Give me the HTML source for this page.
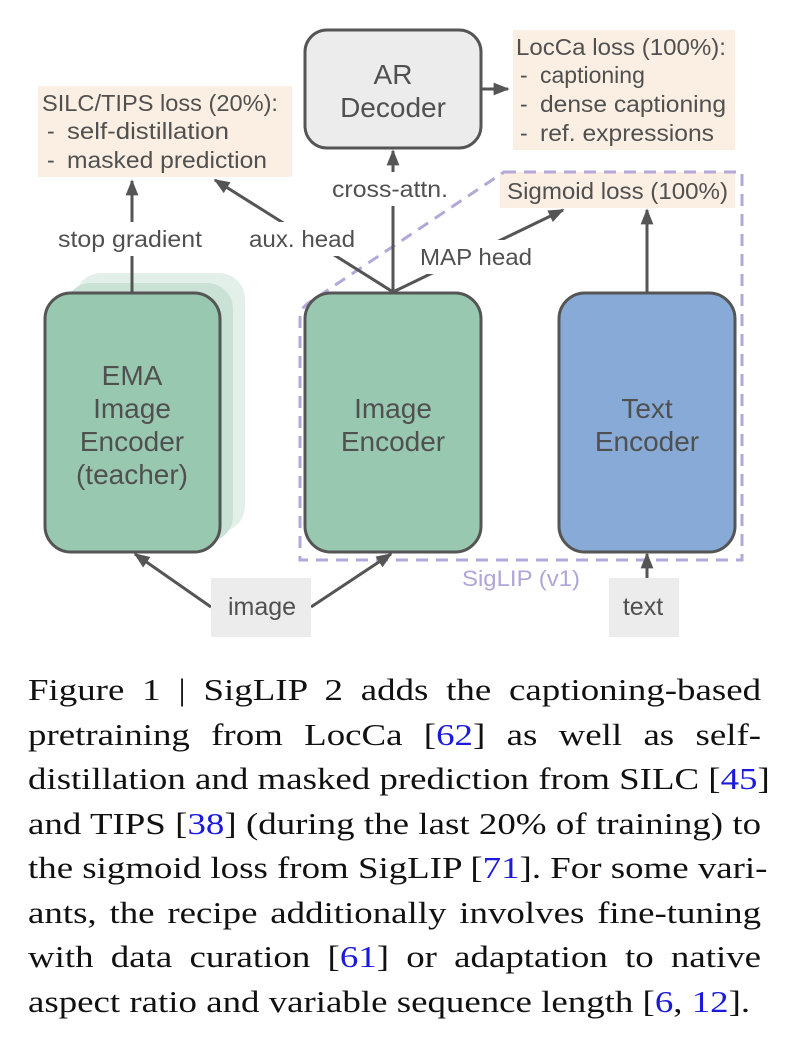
<!DOCTYPE html>
<html><head><meta charset="utf-8"><style>
html,body{margin:0;padding:0;background:#fff;width:790px;height:1042px;overflow:hidden}
svg{position:absolute;left:0;top:0}
.cap{position:absolute;left:28px;width:616px;top:668px;font-family:"Liberation Serif",serif;font-size:31px;color:#111;transform:scaleX(1.19);transform-origin:0 0}
.cap div{height:44.5px;line-height:44.5px;text-align:justify;text-align-last:justify;white-space:nowrap}
.cap div.last{text-align-last:left}
.cap a{color:#1a1adc;text-decoration:none}
</style></head><body>
<svg width="790" height="660" viewBox="0 0 790 660" font-family="Liberation Sans, sans-serif" fill="#555">
<defs>
<marker id="b" viewBox="0 0 10 10" markerWidth="16" markerHeight="16" refX="9" refY="5" orient="auto" markerUnits="userSpaceOnUse"><path d="M0,1 L10,5 L0,9 Z" fill="#555"/></marker></defs>
<rect x="513" y="30" width="222" height="120" fill="#faefe2"/>
<rect x="38" y="86" width="254" height="91" fill="#faefe2"/>
<rect x="500" y="172" width="235" height="36" fill="#faefe2"/>
<g font-size="23" fill="#505050">
<text x="516" y="55" textLength="210" lengthAdjust="spacingAndGlyphs">LocCa loss (100%):</text>
<text x="520" y="83">-</text><text x="540" y="83">captioning</text>
<text x="520" y="112">-</text><text x="540" y="112" textLength="186" lengthAdjust="spacingAndGlyphs">dense captioning</text>
<text x="520" y="141">-</text><text x="540" y="141" textLength="174" lengthAdjust="spacingAndGlyphs">ref. expressions</text>
<text x="42" y="111" textLength="236" lengthAdjust="spacingAndGlyphs">SILC/TIPS loss (20%):</text>
<text x="47" y="139">-</text><text x="67" y="139" textLength="162" lengthAdjust="spacingAndGlyphs">self-distillation</text>
<text x="47" y="168">-</text><text x="67" y="168" textLength="200" lengthAdjust="spacingAndGlyphs">masked prediction</text>
<text x="507" y="199" textLength="221" lengthAdjust="spacingAndGlyphs">Sigmoid loss (100%)</text>
</g>
<path d="M504,172 L742,172 L742,560 L300,560 L300,318 Q300,308 310,302 Z" fill="none" stroke="#b3a8d8" stroke-width="3" stroke-dasharray="12,8"/>
<text x="462" y="586" font-size="22" fill="#b0a5d6" textLength="118" lengthAdjust="spacingAndGlyphs">SigLIP (v1)</text>
<rect x="305" y="30" width="176" height="118" rx="22" fill="#ececec" stroke="#555" stroke-width="3"/>
<g font-size="28" text-anchor="middle" fill="#505050"><text x="393" y="84">AR</text><text x="393" y="117">Decoder</text></g>
<rect x="75" y="273" width="170" height="259" rx="26" fill="#e3f0e9"/>
<rect x="65" y="283" width="168" height="259" rx="26" fill="#c9e2d5"/>
<rect x="45" y="293" width="175" height="259" rx="26" fill="#99c8b1" stroke="#555" stroke-width="3"/>
<rect x="305" y="293" width="176" height="259" rx="26" fill="#99c8b1" stroke="#555" stroke-width="3"/>
<rect x="559" y="293" width="176" height="259" rx="26" fill="#87aad6" stroke="#555" stroke-width="3"/>
<g font-size="28" text-anchor="middle" fill="#505050">
<text x="132" y="385">EMA</text><text x="132" y="418">Image</text><text x="132" y="451">Encoder</text><text x="132" y="484">(teacher)</text>
<text x="393" y="418">Image</text><text x="393" y="451">Encoder</text>
<text x="647" y="418">Text</text><text x="647" y="451">Encoder</text>
</g>
<g stroke="#555" stroke-width="3" fill="none">
<line x1="481" y1="89" x2="508" y2="89" marker-end="url(#b)"/>
<line x1="132" y1="293" x2="132" y2="181" marker-end="url(#b)"/>
<line x1="393" y1="292" x2="215" y2="180" marker-end="url(#b)"/>
<line x1="393" y1="292" x2="393" y2="151" marker-end="url(#b)"/>
<line x1="393" y1="292" x2="563" y2="210" marker-end="url(#b)"/>
<line x1="647" y1="293" x2="647" y2="210" marker-end="url(#b)"/>
<line x1="211" y1="607" x2="135" y2="554" marker-end="url(#b)"/>
<line x1="311" y1="607" x2="391" y2="554" marker-end="url(#b)"/>
<line x1="647" y1="578" x2="647" y2="554" marker-end="url(#b)"/>
</g>
<rect x="55" y="222" width="152" height="34" fill="#fff"/>
<rect x="245" y="222" width="112" height="34" fill="#fff"/>
<rect x="325" y="172" width="126" height="34" fill="#fff"/>
<rect x="415" y="240" width="120" height="34" fill="#fff"/>
<g font-size="23" text-anchor="middle" fill="#505050">
<text x="130" y="247" textLength="144" lengthAdjust="spacingAndGlyphs">stop gradient</text>
<text x="302" y="247" textLength="106" lengthAdjust="spacingAndGlyphs">aux. head</text>
<text x="390" y="197" textLength="116" lengthAdjust="spacingAndGlyphs">cross-attn.</text>
<text x="476" y="265" textLength="112" lengthAdjust="spacingAndGlyphs">MAP head</text>
</g>
<rect x="211" y="578" width="100" height="59" fill="#ececec"/>
<rect x="609" y="578" width="70" height="59" fill="#ececec"/>
<g font-size="25" text-anchor="middle" fill="#505050"><text x="262" y="615">image</text><text x="643" y="615">text</text></g>
</svg>
<div class="cap">
<div>Figure 1 | SigLIP 2 adds the captioning-based</div>
<div>pretraining from LocCa [<a>62</a>] as well as self-</div>
<div>distillation and masked prediction from SILC [<a>45</a>]</div>
<div>and TIPS [<a>38</a>] (during the last 20% of training) to</div>
<div>the sigmoid loss from SigLIP [<a>71</a>]. For some vari-</div>
<div>ants, the recipe additionally involves fine-tuning</div>
<div>with data curation [<a>61</a>] or adaptation to native</div>
<div class="last">aspect ratio and variable sequence length [<a>6</a>, <a>12</a>].</div>
</div>
</body></html>
